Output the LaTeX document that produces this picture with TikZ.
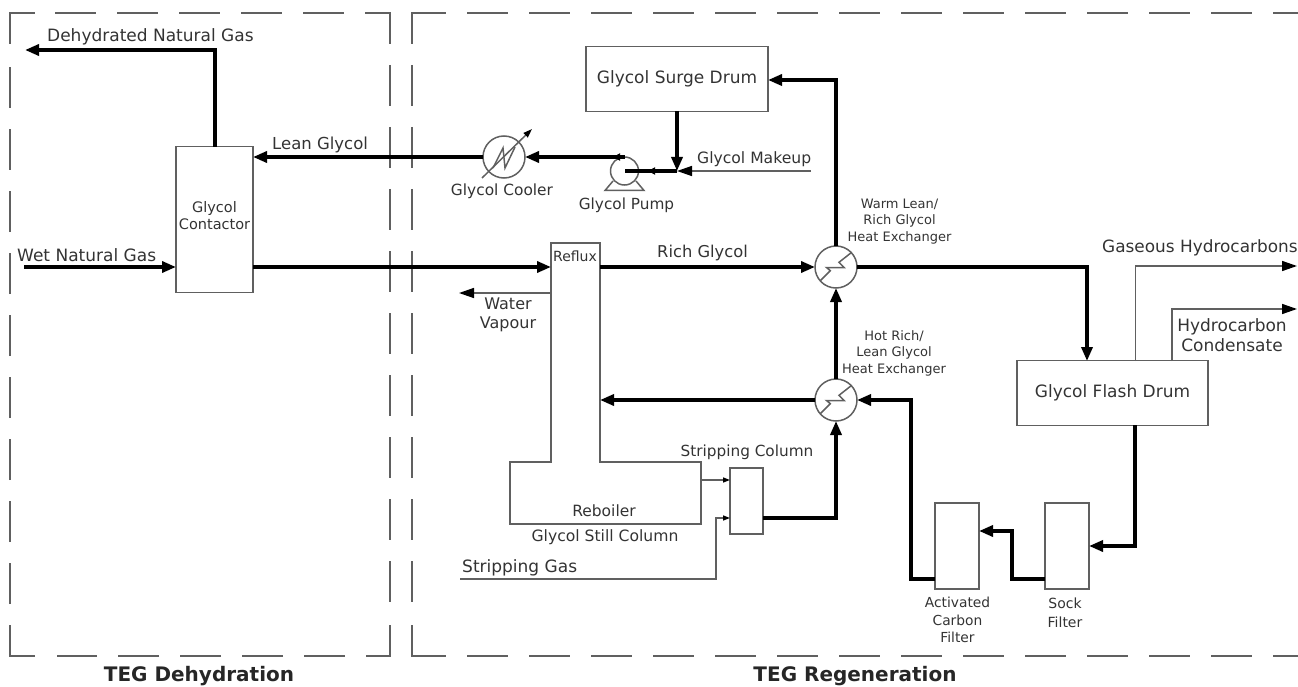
\documentclass[tikz,border=0pt]{standalone}
\usepackage{fontspec}
\setmainfont{DejaVu Sans}
\usetikzlibrary{arrows.meta,calc}
\definecolor{ink}{HTML}{333333}
\definecolor{thinc}{HTML}{606060}
\tikzset{
  x=1pt,y=-1pt,
  tf/.style 2 args={font=\fontsize{#1}{#2}\selectfont},
  box/.style={draw=thinc,line width=1.5pt,outer sep=0pt,inner sep=0pt,rectangle,align=center,text=ink,tf={17}{20}},
  hx/.style={draw=thinc,line width=1.5pt,circle,minimum size=42pt,inner sep=0pt,outer sep=0pt},
  pumpc/.style={draw=thinc,line width=1.5pt,circle,minimum size=28pt,inner sep=0pt,outer sep=0pt},
  lbl/.style={text=ink,inner sep=0pt,align=center},
  sectlbl/.style={text=black!85,font=\bfseries\fontsize{20}{24}\selectfont,inner sep=0pt},
  heavy/.style={draw=black,line width=3.4pt,line join=miter,-{Triangle[length=14pt,width=11pt]}},
  heavyplain/.style={draw=black,line width=3.4pt,line join=miter},
  minitip/.style={draw=black,line width=3.4pt,-{Triangle[length=7pt,width=7pt]}},
  light/.style={draw=thinc,line width=1.5pt,-{Triangle[length=15pt,width=10pt,color=black]}},
  tiny/.style={draw=thinc,line width=1.3pt,-{Triangle[length=7pt,width=5pt,color=black]}},
  thinline/.style={draw=thinc,line width=1.5pt},
  zone/.style={draw=thinc,line width=1.5pt,dash pattern=on 41pt off 21pt},
}
\begin{document}
\begin{tikzpicture}
\useasboundingbox (0,0) rectangle (1298,687);
% zone: TEG dehydration
\draw[thinline] (10,44) -- (10,13) -- (35,13);
\draw[zone] (55,13) -- (345,13);
\draw[thinline] (365,13) -- (390,13) -- (390,44);
\draw[zone] (390,65) -- (390,604);
\draw[thinline] (390,625) -- (390,656) -- (366,656);
\draw[zone] (345,656) -- (57,656);
\draw[thinline] (35,656) -- (10,656) -- (10,625);
\draw[zone] (10,604) -- (10,66);
% zone: TEG regeneration
\draw[thinline] (412,44) -- (412,13) -- (446,13);
\draw[zone] (467,13) -- (1298,13);
\draw[zone] (412,65) -- (412,604);
\draw[thinline] (412,625) -- (412,656) -- (446,656);
\draw[zone] (467,656) -- (1298,656);
% equipment
\node[box,minimum width=77pt,minimum height=146pt] (contactor) at (214.5,219.5) {};
\node[box,minimum width=182pt,minimum height=65pt] (surge) at (677,79) {Glycol Surge Drum};
\node[box,minimum width=191pt,minimum height=65pt] (flash) at (1112.5,393) {Glycol Flash Drum};
\node[box,minimum width=44pt,minimum height=86pt] (sock) at (1067,546) {};
\node[box,minimum width=44pt,minimum height=86pt] (carbon) at (957,546) {};
\node[box,minimum width=33pt,minimum height=66pt] (strip) at (746.5,501) {};
\node[hx] (cooler) at (504,157) {};
\node[hx] (hxa) at (836,267) {};
\node[hx] (hxb) at (836,400) {};
\node[pumpc] (pump) at (624.5,171) {};
% still column
\coordinate (stillA) at (551,243);
\coordinate (stillB) at (600,243);
\coordinate (stillC) at (600,462);
\coordinate (stillD) at (701,462);
\coordinate (stillE) at (701,524);
\coordinate (stillF) at (510,524);
\coordinate (stillG) at (510,462);
\coordinate (stillH) at (551,462);
\draw[thinline,line join=miter] (stillA) -- (stillB) -- (stillC) -- (stillD) -- (stillE) -- (stillF) -- (stillG) -- (stillH) -- cycle;
% pump base
\draw[thinline] (613,181) -- (605,190.5) -- (644,190.5) -- (636,181);
% cooler internals
\draw[thinline,-{Triangle[length=9pt,width=6pt,color=black]}] (482,178) -- (532,129);
\draw[thinline] (493,168) -- (503,148) -- (505,168) -- (515,147);
% exchanger internals
\foreach \h in {hxa,hxb}{
  \draw[thinline] ($(\h.center)+(-15.7,13.7)$) -- ($(\h.center)+(-5.7,3.7)$) -- ($(\h.center)+(-9.5,0.5)$) -- ($(\h.center)+(8,0.5)$) -- ($(\h.center)+(3,-4.7)$) -- ($(\h.center)+(15.7,-14.7)$);
}
% free ends
\coordinate (dryEnd) at (25,50);
\coordinate (dryTurn) at (215,50);
\coordinate (dryOut) at (215,147);
\coordinate (wetIn) at (24,267);
\coordinate (wetEnd) at (176,267);
\coordinate (richOut) at (253,267);
\coordinate (refluxIn) at (551,267);
\coordinate (refluxOut) at (600,267);
\coordinate (contIn) at (253,157);
\coordinate (surgeIn) at (768,80);
\coordinate (surgeTurn) at (836,80);
\coordinate (junction) at (677,171);
\coordinate (surgeOut) at (677,111);
\coordinate (makeup) at (811,171);
\coordinate (pumpTop) at (625,157);
\coordinate (pumpTick) at (613,157);
\coordinate (pumpTickB) at (620,157);
\coordinate (lineTickA) at (655,171);
\coordinate (lineTickB) at (648,171);
\coordinate (flashIn) at (1087,361);
\coordinate (flashTurn) at (1087,267);
\coordinate (gasOut) at (1135.5,361);
\coordinate (gasTurn) at (1135.5,266);
\coordinate (gasEnd) at (1297,266);
\coordinate (condOut) at (1172,361);
\coordinate (condTurn) at (1172,309);
\coordinate (condEnd) at (1297,309);
\coordinate (flashBot) at (1135,425);
\coordinate (sockIn) at (1089,546);
\coordinate (sockTurn) at (1135,546);
\coordinate (sockOut) at (1045,579);
\coordinate (sockT1) at (1012,579);
\coordinate (sockT2) at (1012,531);
\coordinate (carbIn) at (979,531);
\coordinate (carbOut) at (935,579);
\coordinate (carbT1) at (911,579);
\coordinate (carbT2) at (911,400);
\coordinate (stillRet) at (600,400);
\coordinate (stripOut) at (763,518);
\coordinate (stripTurn) at (836,518);
\coordinate (reboilOut) at (701,480);
\coordinate (stripIn1) at (730,480);
\coordinate (stripIn2) at (730,518);
\coordinate (sgTurn2) at (716,518);
\coordinate (sgTurn1) at (716,579);
\coordinate (sgStart) at (460,579);
\coordinate (wvStart) at (551,293);
\coordinate (wvEnd) at (459,293);
% heavy lines
\draw[heavy] (dryOut) -- (dryTurn) -- (dryEnd);
\draw[heavy] (wetIn) -- (wetEnd);
\draw[heavy] (richOut) -- (refluxIn);
\draw[heavy] (refluxOut) -- (hxa.west);
\draw[heavy] (cooler.west) -- (contIn);
\draw[heavy] (pumpTop) -- (cooler.east);
\draw[minitip] (pumpTickB) -- (pumpTick);
\draw[heavy] (hxa.north) -- (surgeTurn) -- (surgeIn);
\draw[heavyplain] (junction) -- (pump.center);
\draw[minitip] (lineTickA) -- (lineTickB);
\draw[heavy] (surgeOut) -- (junction);
\draw[light] (makeup) -- (junction);
\draw[heavy] (hxb.north) -- (hxa.south);
\draw[heavy] (hxa.east) -- (flashTurn) -- (flashIn);
\draw[heavy] (flashBot) -- (sockTurn) -- (sockIn);
\draw[heavy] (sockOut) -- (sockT1) -- (sockT2) -- (carbIn);
\draw[heavy] (carbOut) -- (carbT1) -- (carbT2) -- (hxb.east);
\draw[heavy] (hxb.west) -- (stillRet);
\draw[heavy] (stripOut) -- (stripTurn) -- (hxb.south);
% light lines
\draw[light] (gasOut) -- (gasTurn) -- (gasEnd);
\draw[light] (condOut) -- (condTurn) -- (condEnd);
\draw[light] (wvStart) -- (wvEnd);
\draw[tiny] (reboilOut) -- (stripIn1);
\draw[tiny] (sgStart) -- (sgTurn1) -- (sgTurn2) -- (stripIn2);
% labels
\node[lbl,tf={17}{20},anchor=west] (tDry) at (47,36.5) {Dehydrated Natural Gas};
\node[lbl,tf={17}{20},anchor=west] (tWet) at (17,255) {Wet Natural Gas};
\node[lbl,tf={16.5}{20},anchor=west] (tLean) at (272,145) {Lean Glycol};
\node[lbl,tf={14.5}{17}] (tCont) at (214.5,215.5) {Glycol\\Contactor};
\node[lbl,tf={15.4}{18}] (tCool) at (502,191) {Glycol Cooler};
\node[lbl,tf={15.3}{18}] (tPump) at (626.5,205) {Glycol Pump};
\node[lbl,tf={15.6}{18},anchor=west] (tMake) at (697,159) {Glycol Makeup};
\node[lbl,tf={16.3}{18}] (tRich) at (702.5,253) {Rich Glycol};
\node[lbl,tf={14}{17}] (tRefl) at (575,256) {Reflux};
\node[lbl,tf={16}{19}] (tWv) at (508,314.5) {Water\\Vapour};
\node[lbl,tf={15.5}{18}] (tReb) at (604,511) {Reboiler};
\node[lbl,tf={15.6}{18}] (tStill) at (605,537) {Glycol Still Column};
\node[lbl,tf={15.3}{18}] (tStrC) at (747,452) {Stripping Column};
\node[lbl,tf={17}{20},anchor=west] (tStrG) at (462,568) {Stripping Gas};
\node[lbl,tf={13}{16.5}] (tWarm) at (899.5,221.5) {Warm Lean/\\Rich Glycol\\Heat Exchanger};
\node[lbl,tf={13}{16.5}] (tHot) at (894,353) {Hot Rich/\\Lean Glycol\\Heat Exchanger};
\node[lbl,tf={16.9}{20},anchor=west] (tGas) at (1102,248) {Gaseous Hydrocarbons};
\node[lbl,tf={17}{20}] (tCond) at (1232,335) {Hydrocarbon\\Condensate};
\node[lbl,tf={13.8}{17.5}] (tCarb) at (957.5,620) {Activated\\Carbon\\Filter};
\node[lbl,tf={14}{19}] (tSock) at (1065,613) {Sock\\Filter};
\node[sectlbl] (tZ1) at (199,676.5) {TEG Dehydration};
\node[sectlbl] (tZ2) at (855,676.5) {TEG Regeneration};
\end{tikzpicture}
\end{document}
